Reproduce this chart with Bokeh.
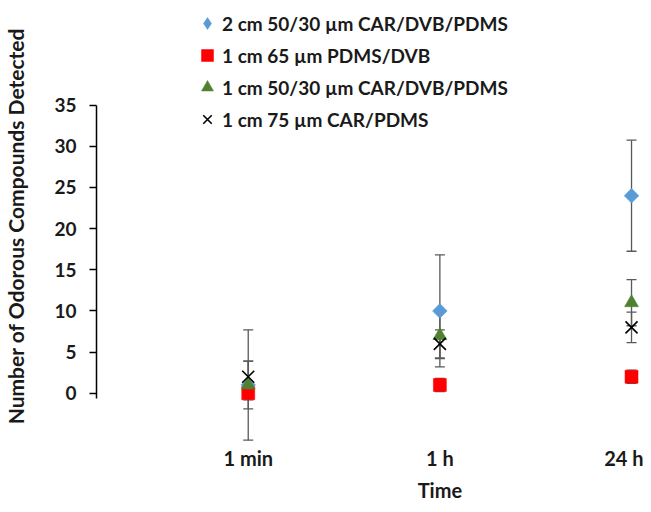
import numpy as np
from bokeh.plotting import figure
from bokeh.models import (ColumnDataSource, Whisker, TeeHead, Legend, LegendItem,
                          LinearAxis, FixedTicker)
from bokeh.embed import file_html
from bokeh.resources import INLINE

# ---- data ----
times = ["1 min", "1 h", "24 h"]
time_pos = [0, 1, 2]
x_title = "Time"
y_title = "Number of Odorous Compounds Detected"
series_names = ["2 cm 50/30 \u00b5m CAR/DVB/PDMS", "1 cm 65 \u00b5m PDMS/DVB",
                "1 cm 50/30 \u00b5m CAR/DVB/PDMS", "1 cm 75 \u00b5m CAR/PDMS"]
car_dvb_pdms_2cm = [1, 10, 24]
car_dvb_pdms_2cm_err = [6.7, 6.8, 6.75]
pdms_dvb_1cm = [0, 1, 2]
pdms_dvb_1cm_err = [0.8, 0.8, 0.8]
car_dvb_pdms_1cm = [1, 7, 11]
car_dvb_pdms_1cm_err = [2.9, 2.8, 2.8]
car_pdms_1cm = [2, 6, 8]
car_pdms_1cm_err = [1.9, 1.7, 1.85]
y_ticks = [0, 5, 10, 15, 20, 25, 30, 35]

FONT = "Lato"
TXT = "#1a1a1a"

p = figure(width=643, height=504, output_backend="svg", toolbar_location=None,
           x_range=(-0.7917, 2.0625), y_range=(-6.11, 46.75),
           min_border_left=95, min_border_right=0, min_border_top=8,
           min_border_bottom=61)
p.outline_line_color = None
p.xgrid.visible = False
p.ygrid.visible = False
p.background_fill_color = "white"

series = [
    (car_dvb_pdms_2cm, car_dvb_pdms_2cm_err, "square", "#5B9BD5", 10.4, np.pi / 4, "diamond"),
    (pdms_dvb_1cm, pdms_dvb_1cm_err, "square", "#FF0000", 13, 0, "square"),
    (car_dvb_pdms_1cm, car_dvb_pdms_1cm_err, "triangle", "#4F8131", 14, 0, "triangle"),
    (car_pdms_1cm, car_pdms_1cm_err, "x", "#000000", 17, 0, "x"),
]

for vals, errs, marker, color, size, ang, lm in series:
    src = ColumnDataSource(dict(
        x=time_pos, y=vals,
        upper=[v + e for v, e in zip(vals, errs)],
        lower=[v - e for v, e in zip(vals, errs)]))
    w = Whisker(source=src, base="x", upper="upper", lower="lower",
                line_color="#595959", line_width=1.3,
                upper_head=TeeHead(size=10, line_color="#595959", line_width=1.3),
                lower_head=TeeHead(size=10, line_color="#595959", line_width=1.3))
    p.add_layout(w)

items = []
for (vals, errs, marker, color, size, ang, lm), name in zip(series, series_names):
    src = ColumnDataSource(dict(x=time_pos, y=vals))
    if marker == "x":
        r = p.scatter("x", "y", source=src, marker="x", size=size,
                      line_color=color, line_width=1.6)
        lr = r
    else:
        r = p.scatter("x", "y", source=src, marker=marker, size=size, angle=ang,
                      fill_color=color, line_color=color, line_width=0.5)
        lr = r
        if lm != marker:
            lr = p.scatter(x=[np.nan], y=[np.nan], marker=lm, size=size,
                           fill_color=color, line_color=color, line_width=0.5)
    items.append(LegendItem(label=name, renderers=[lr]))

legend = Legend(items=items, location=(96, 309), orientation="vertical",
                glyph_width=30, glyph_height=30, label_height=30, spacing=2,
                padding=0, margin=0, label_standoff=0,
                background_fill_alpha=0, border_line_alpha=0,
                label_text_font=FONT, label_text_font_style="bold",
                label_text_font_size="19px", label_text_color=TXT)
p.add_layout(legend, "center")

# y axis
p.yaxis.ticker = FixedTicker(ticks=y_ticks)
p.yaxis.bounds = (-0.65, 35)
p.yaxis.axis_line_color = "#000000"
p.yaxis.axis_line_width = 1.5
p.yaxis.major_tick_line_color = "#000000"
p.yaxis.major_tick_line_width = 1.3
p.yaxis.major_tick_out = 7
p.yaxis.major_tick_in = 0
p.yaxis.minor_tick_line_color = None
p.yaxis.major_label_standoff = 13
p.yaxis.major_label_text_font = FONT
p.yaxis.major_label_text_font_style = "bold"
p.yaxis.major_label_text_font_size = "19px"
p.yaxis.major_label_text_color = TXT
p.yaxis.axis_label = y_title
p.yaxis.axis_label_text_font = FONT
p.yaxis.axis_label_text_font_style = "bold"
p.yaxis.axis_label_text_font_size = "21px"
p.yaxis.axis_label_text_color = TXT
p.yaxis.axis_label_standoff = 23

# x axis (category labels)
p.xaxis.ticker = FixedTicker(ticks=time_pos)
p.xaxis.major_label_overrides = {pos: t for pos, t in zip(time_pos, times)}
p.xaxis.axis_line_color = None
p.xaxis.major_tick_line_color = None
p.xaxis.minor_tick_line_color = None
p.xaxis.major_tick_out = 0
p.xaxis.major_tick_in = 0
p.xaxis.major_label_standoff = 2
p.xaxis.major_label_text_font = FONT
p.xaxis.major_label_text_font_style = "bold"
p.xaxis.major_label_text_font_size = "20px"
p.xaxis.major_label_text_color = TXT

# x axis title, placed under the middle category as in the original
title_axis = LinearAxis(ticker=FixedTicker(ticks=[time_pos[1]]),
                        major_label_overrides={time_pos[1]: x_title},
                        axis_line_color=None, major_tick_line_color=None,
                        minor_tick_line_color=None, major_tick_out=0, major_tick_in=0,
                        major_label_standoff=5,
                        major_label_text_font=FONT, major_label_text_font_style="bold",
                        major_label_text_font_size="20px", major_label_text_color=TXT)
p.add_layout(title_axis, "below")

open("out.html", "w").write(file_html(p, INLINE))
